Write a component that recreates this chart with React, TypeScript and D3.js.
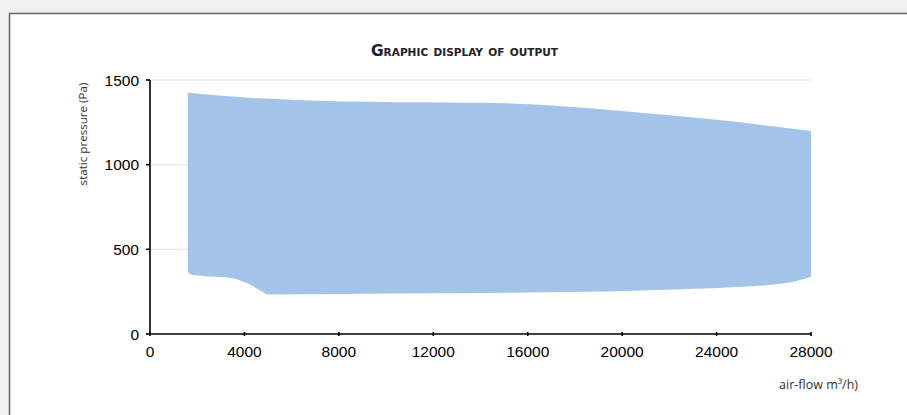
import React from "react";
import * as d3 from "d3";

const W = 907;
const H = 415;

const xTicks = [0, 4000, 8000, 12000, 16000, 20000, 24000, 28000];
const yTicks = [0, 500, 1000, 1500];

// upper boundary (max static pressure)
const upperFlow = [1600, 4000, 7000, 11600, 15000, 17000, 20000, 24000, 28000];
const upperPressure = [1425, 1397, 1378, 1368, 1362, 1350, 1317, 1265, 1199];

// lower boundary (min static pressure)
const lowerFlow = [1600, 1800, 2500, 3200, 3800, 4300, 4700, 5000, 8000, 12000, 16900, 21500, 24600, 26900, 28000];
const lowerPressure = [368, 348, 340, 335, 318, 288, 255, 234, 236, 240, 246, 260, 276, 299, 338];

const title = "Graphic display of output";
const yTitle = "static pressure (Pa)";
const xTitle = "air-flow m³/h)";

export default function App() {
  const x = d3.scaleLinear().domain([0, 28000]).range([150, 811]);
  const y = d3.scaleLinear().domain([0, 1500]).range([334, 80]);

  const upperLine = d3
    .line<number>()
    .x((_, i) => x(upperFlow[i]))
    .y((_, i) => y(upperPressure[i]))
    .curve(d3.curveMonotoneX);

  const up = upperLine(upperFlow as any) || "";
  const lowRevFlow = [...lowerFlow].reverse();
  const lowRevP = [...lowerPressure].reverse();
  const lowerRevLine = d3
    .line<number>()
    .x((_, i) => x(lowRevFlow[i]))
    .y((_, i) => y(lowRevP[i]))
    .curve(d3.curveMonotoneX);
  const lowRev = lowerRevLine(lowRevFlow as any) || "";
  const areaPath = up + "L" + lowRev.slice(1) + "Z";

  return (
    <svg
      width={W}
      height={H}
      style={{ position: "absolute", left: 0, top: 0, display: "block" }}
    >
      <rect x={0} y={0} width={W} height={H} fill="#f0f0f0" />
      <rect x={9.5} y={13.5} width={1200} height={1200} fill="#ffffff" stroke="#666666" strokeWidth={1.5} />

      {/* gridlines */}
      {yTicks.slice(1).map((t) => (
        <line key={"g" + t} x1={x(0)} x2={x(28000)} y1={y(t)} y2={y(t)} stroke="#ececec" strokeWidth={1.5} />
      ))}

      {/* area */}
      <path d={areaPath} fill="#a4c3e8" stroke="none" />

      {/* title */}
      <text
        x={371}
        y={55.5}
        textAnchor="start"
        fontFamily="'Liberation Sans Narrow', 'DejaVu Sans Condensed', sans-serif"
        fontWeight="bold"
        fontSize={16}
        style={{ fontVariant: "small-caps" }}
        textLength={187}
        lengthAdjust="spacingAndGlyphs"
        fill="#222"
      >
        {title}
      </text>

      {/* y axis */}
      <line x1={x(0)} x2={x(0)} y1={y(1500)} y2={y(0)} stroke="#000" strokeWidth={1.6} />
      {yTicks.map((t) => (
        <g key={"y" + t}>
          <line x1={x(0) - 4} x2={x(0)} y1={y(t)} y2={y(t)} stroke="#000" strokeWidth={1.6} />
          <text
            x={139}
            y={y(t)}
            dy="0.36em"
            textAnchor="end"
            fontFamily="'Liberation Sans', Arial, sans-serif"
            fontSize={15.5}
            fill="#000"
          >
            {t}
          </text>
        </g>
      ))}

      {/* x axis */}
      <line x1={x(0)} x2={x(28000)} y1={y(0)} y2={y(0)} stroke="#000" strokeWidth={1.6} />
      {xTicks.map((t) => (
        <g key={"x" + t}>
          <line x1={x(t)} x2={x(t)} y1={y(0) - 2} y2={y(0) + 2} stroke="#000" strokeWidth={1.6} />
          <text
            x={x(t)}
            y={357}
            textAnchor="middle"
            fontFamily="'Liberation Sans', Arial, sans-serif"
            fontSize={15.5}
            fill="#000"
          >
            {t}
          </text>
        </g>
      ))}

      {/* axis titles */}
      <text
        transform={`translate(86.5,134) rotate(-90)`}
        textAnchor="middle"
        fontFamily="'Open Sans', sans-serif"
        fontSize={11.6}
        fill="#333"
      >
        {yTitle}
      </text>
      <text
        x={858}
        y={388.5}
        textAnchor="end"
        fontFamily="'Open Sans', sans-serif"
        fontSize={12.5}
        fill="#333"
      >
        {xTitle}
      </text>
    </svg>
  );
}
